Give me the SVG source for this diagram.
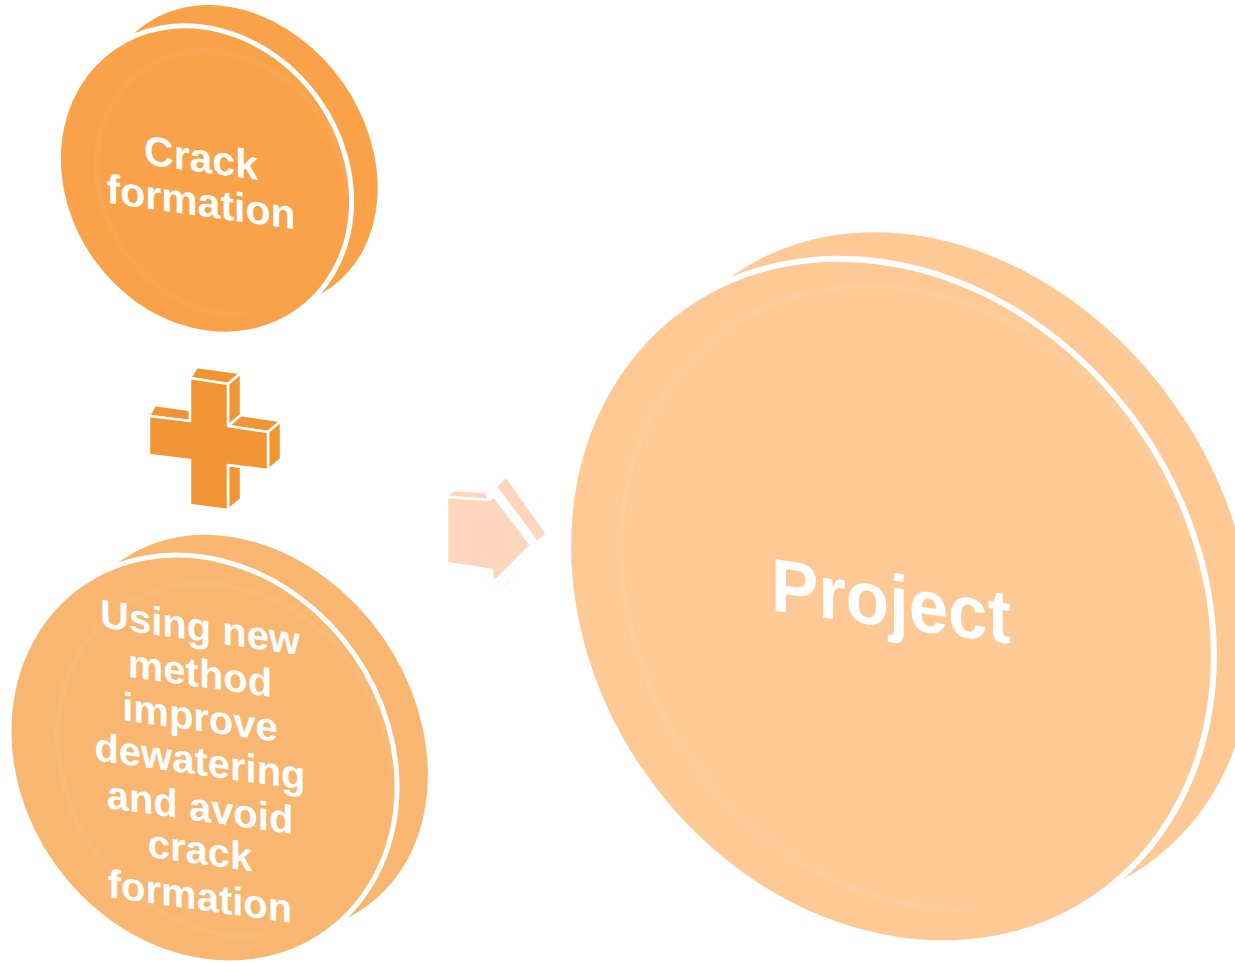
<svg xmlns="http://www.w3.org/2000/svg" width="1235" height="963" viewBox="0 0 1235 963">
  <style>
    .lbl { font-family: "Liberation Sans", Arial, sans-serif; font-weight: bold; fill: #FFFFFF; text-anchor: middle; }
    .face { stroke: #FFFFFF; }
    .ring { fill: none; stroke: #FFFFFF; stroke-opacity: 0.05; stroke-width: 6; }
    .c1 { fill: #F9A24A; }
    .c2 { fill: #F9B670; }
    .c3 { fill: #FEC995; }
    .plus { fill: #F19433; stroke: #FFFFFF; stroke-width: 2.5; stroke-linejoin: round; }
    .arrow { fill: #FFD5BE; stroke: #FFFFFF; stroke-width: 2.5; stroke-linejoin: round; }
  </style>
  <defs>
    <clipPath id="clip-crack">
      <ellipse cx="204" cy="180" rx="159" ry="137" transform="rotate(55 204 180)"/>
    </clipPath>
    <clipPath id="clip-method">
      <ellipse cx="203" cy="759" rx="210" ry="181" transform="rotate(55 203 759)"/>
    </clipPath>
    <clipPath id="clip-project">
      <ellipse cx="891" cy="601" rx="356" ry="299" transform="rotate(55 891 601)"/>
    </clipPath>
  </defs>

  <!-- Disc: Crack formation -->
  <g id="node-crack">
    <ellipse class="c1" cx="238" cy="156" rx="161" ry="128" transform="rotate(55 238 156)"/>
    <ellipse class="c1 face" stroke-width="5" cx="205" cy="180" rx="161" ry="139" transform="rotate(55 205 180)"/>
    <ellipse class="ring" clip-path="url(#clip-crack)" cx="222" cy="183" rx="138" ry="119" transform="rotate(55 222 183)"/>
    <g transform="translate(201 172) skewY(8)"><text class="lbl" font-size="41">Crack</text></g>
    <g transform="translate(201 216) skewY(8)"><text class="lbl" font-size="41">formation</text></g>
  </g>

  <!-- Disc: new method -->
  <g id="node-method">
    <ellipse class="c2" cx="243" cy="734" rx="212" ry="170" transform="rotate(55 243 734)"/>
    <ellipse class="c2 face" stroke-width="5" cx="203" cy="759" rx="213" ry="184" transform="rotate(55 203 759)"/>
    <ellipse class="ring" clip-path="url(#clip-method)" cx="225" cy="760" rx="184" ry="159" transform="rotate(55 225 760)"/>
    <g transform="translate(200 641) skewY(8)"><text class="lbl" font-size="40">Using new</text></g>
    <g transform="translate(200 687) skewY(8)"><text class="lbl" font-size="40">method</text></g>
    <g transform="translate(200 731) skewY(8)"><text class="lbl" font-size="40">improve</text></g>
    <g transform="translate(200 775) skewY(8)"><text class="lbl" font-size="40">dewatering</text></g>
    <g transform="translate(200 821) skewY(8)"><text class="lbl" font-size="40">and avoid</text></g>
    <g transform="translate(200 864) skewY(8)"><text class="lbl" font-size="40">crack</text></g>
    <g transform="translate(200 910) skewY(8)"><text class="lbl" font-size="40">formation</text></g>
  </g>

  <!-- Disc: Project -->
  <g id="node-project">
    <ellipse class="c3" cx="940" cy="570" rx="360" ry="287" transform="rotate(55 940 570)"/>
    <ellipse class="c3 face" stroke-width="6" cx="891" cy="601" rx="360" ry="303" transform="rotate(55 891 601)"/>
    <ellipse class="ring" clip-path="url(#clip-project)" cx="915" cy="598" rx="328" ry="276" transform="rotate(55 915 598)"/>
    <g transform="translate(891 627) skewY(8)"><text class="lbl" font-size="75" textLength="240" lengthAdjust="spacingAndGlyphs">Project</text></g>
  </g>

  <!-- Connectors: plus sign and arrow -->
  <g id="connectors">
    <g id="plus">
      <polygon class="plus" points="190,378 228,384 241,373 197,367"/>
      <polygon class="plus" points="228,384 241,373 241,415 228,426"/>
      <polygon class="plus" points="228,426 241,415 281,421 268,432"/>
      <polygon class="plus" points="268,432 281,421 281,459 268,470"/>
      <polygon class="plus" points="228,465 241,467 241,499 228,510"/>
      <polygon class="plus" points="149,416 190,421 190,410 155,405"/>
      <polygon class="plus" points="190,378 228,384 228,426 268,432 268,470 228,465 228,510 190,505 190,460 149,455 149,416 190,421"/>
    </g>
    <g id="arrow">
      <polygon class="arrow" points="447,497 453,490 486,492 490,500"/>
      <polygon class="arrow" points="496,487 506,476 547,534 537,542"/>
      <polygon class="arrow" points="537,548 544,543 506,586 499,589"/>
      <polygon class="arrow" points="447,497 490,500 493,495 531,545 493,583 492,570 447,563"/>
    </g>
  </g>
</svg>
